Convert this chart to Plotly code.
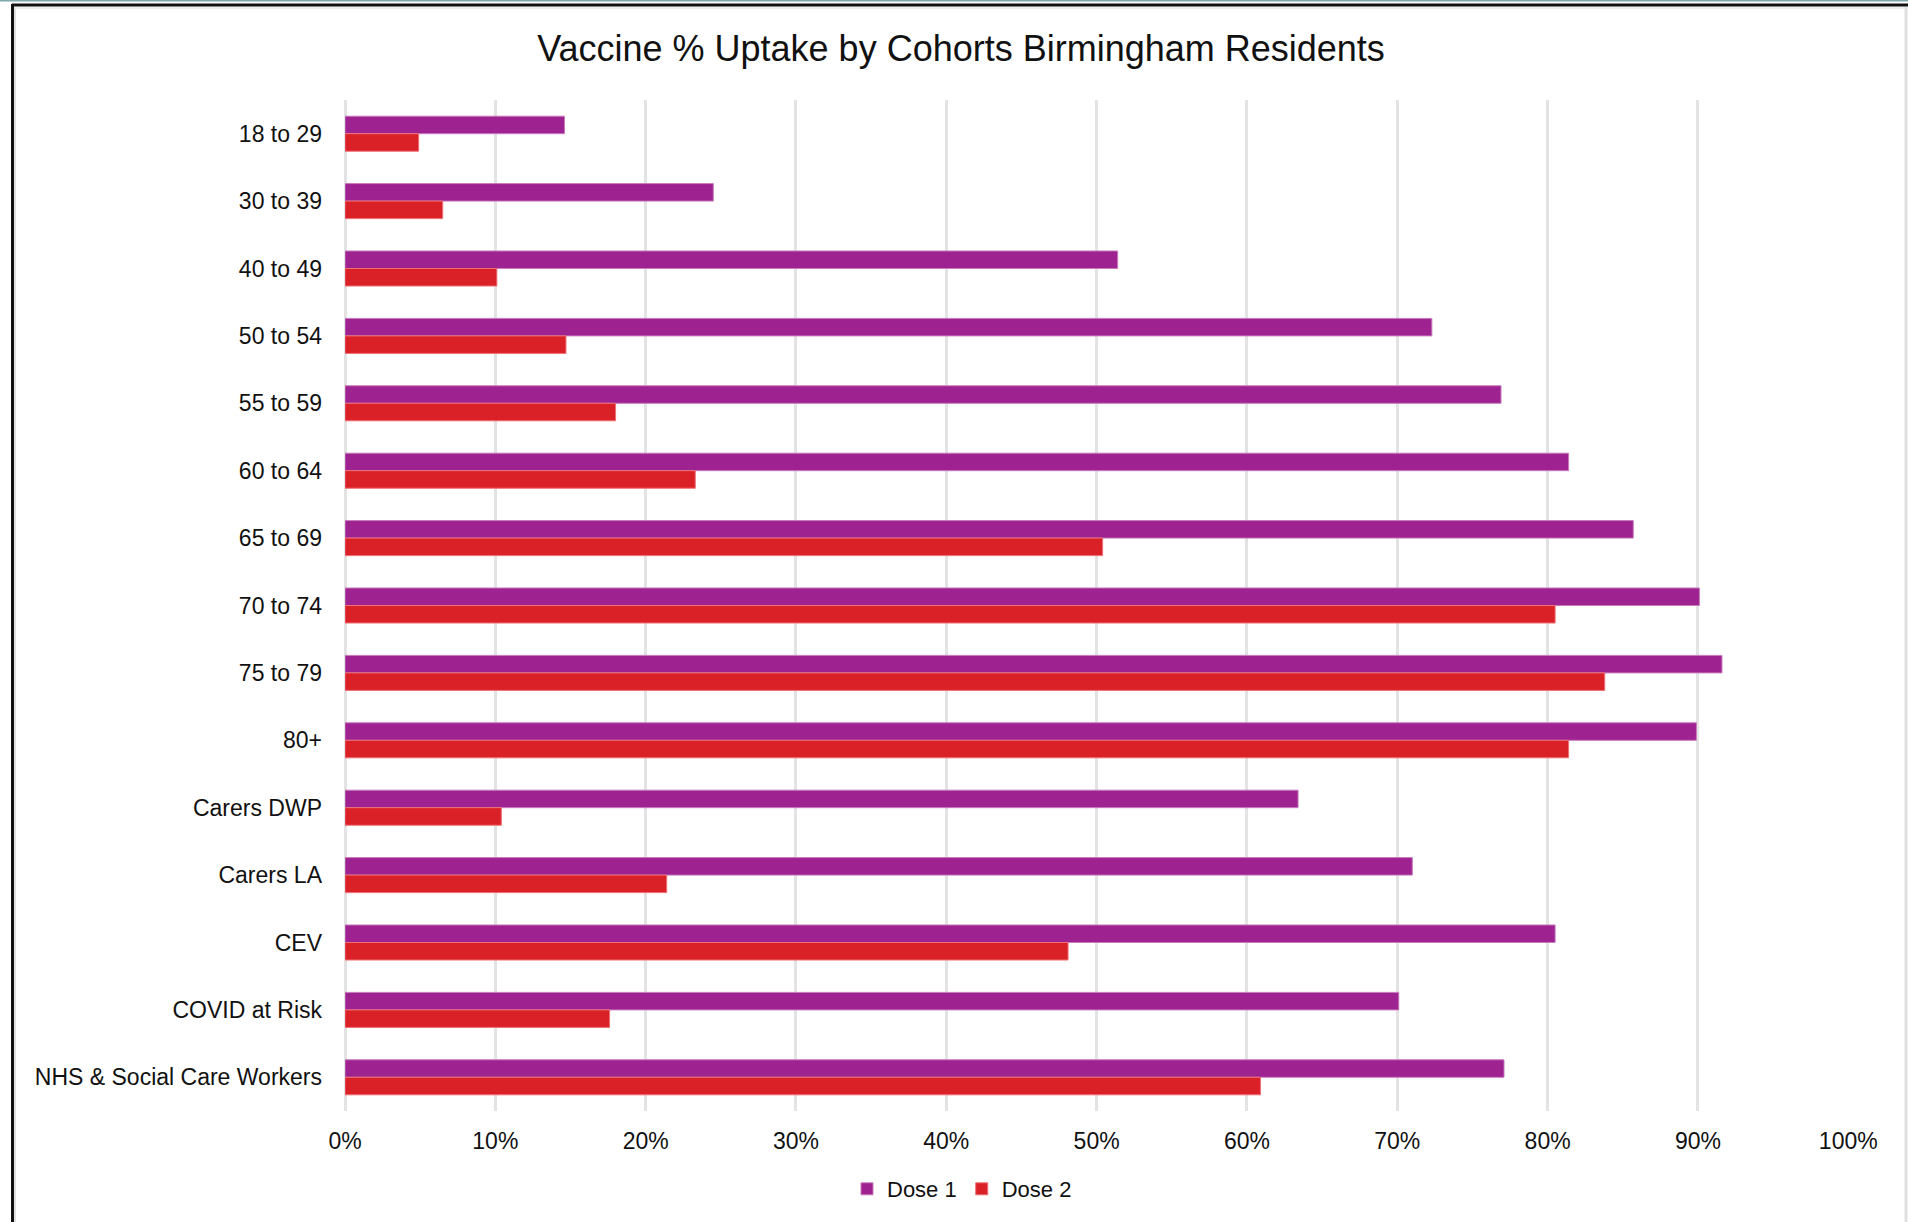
import plotly.graph_objects as go

categories = ["18 to 29", "30 to 39", "40 to 49", "50 to 54", "55 to 59", "60 to 64",
              "65 to 69", "70 to 74", "75 to 79", "80+", "Carers DWP", "Carers LA",
              "CEV", "COVID at Risk", "NHS & Social Care Workers"]
dose1 = [14.6, 24.5, 51.4, 72.3, 76.9, 81.4, 85.7, 90.1, 91.6, 89.9, 63.4, 71.0, 80.5, 70.1, 77.1]
dose2 = [4.9, 6.5, 10.1, 14.7, 18.0, 23.3, 50.4, 80.5, 83.8, 81.4, 10.4, 21.4, 48.1, 17.6, 60.9]
tick_vals = [0, 10, 20, 30, 40, 50, 60, 70, 80, 90, 100]
tick_text = [f"{v}%" for v in tick_vals]

W, H = 1908, 1222
L, R, T, B = 345, 59, 100, 111
pw, ph = W - L - R, H - T - B

def px_x(p):
    return (p - L) / pw

def px_y(p):
    return 1 - (p - T) / ph

font = "Liberation Sans, Arial, sans-serif"

fig = go.Figure()
fig.add_trace(go.Bar(y=categories, x=dose1, name="Dose 1", orientation="h",
                     marker=dict(color="#9E228F", line=dict(color="#C77BBE", width=1))))
fig.add_trace(go.Bar(y=categories, x=dose2, name="Dose 2", orientation="h",
                     marker=dict(color="#DB2128", line=dict(color="#EE7075", width=1))))

shapes = [
    dict(type="line", xref="paper", yref="paper", x0=px_x(0), x1=px_x(W), y0=px_y(0.5), y1=px_y(0.5),
         line=dict(color="#7FA6A8", width=2)),
    dict(type="line", xref="paper", yref="paper", x0=px_x(12), x1=px_x(W), y0=px_y(5), y1=px_y(5),
         line=dict(color="#111111", width=3)),
    dict(type="line", xref="paper", yref="paper", x0=px_x(12.5), x1=px_x(12.5), y0=px_y(4), y1=px_y(H),
         line=dict(color="#111111", width=3)),
    dict(type="line", xref="paper", yref="paper", x0=px_x(15), x1=px_x(15), y0=px_y(7), y1=px_y(H),
         line=dict(color="#E0E0E0", width=2)),
    dict(type="line", xref="paper", yref="paper", x0=px_x(15), x1=px_x(1905), y0=px_y(8), y1=px_y(8),
         line=dict(color="#EEEEEE", width=2)),
    dict(type="line", xref="paper", yref="paper", x0=px_x(1906), x1=px_x(1906), y0=px_y(7), y1=px_y(H),
         line=dict(color="#E0E0E0", width=3)),
]

fig.update_layout(
    width=W, height=H,
    margin=dict(l=L, r=R, t=T, b=B, autoexpand=False),
    paper_bgcolor="white", plot_bgcolor="white",
    barmode="group", bargap=0.48, bargroupgap=0,
    title=dict(text="Vaccine % Uptake by Cohorts Birmingham Residents",
               x=961 / W, xanchor="center",
               y=1 - 48 / H, yanchor="middle",
               font=dict(family=font, size=36, color="#111111")),
    font=dict(family=font, color="#111111"),
    xaxis=dict(range=[0, 100.05], tickvals=tick_vals, ticktext=tick_text,
               showgrid=True, gridcolor="#E3E3E3", gridwidth=2.5,
               zeroline=True, zerolinecolor="#E3E3E3", zerolinewidth=2.5,
               showline=False, ticks="", ticklabelstandoff=14,
               tickfont=dict(size=23, family=font, color="#111111")),
    yaxis=dict(autorange="reversed", showgrid=False, zeroline=False, showline=False,
               ticks="", ticklabelstandoff=22,
               tickfont=dict(size=23, family=font, color="#111111")),
    legend=dict(orientation="h", x=(962 - L) / pw, xanchor="center",
                y=px_y(1189), yanchor="middle",
                font=dict(size=22, family=font, color="#111111"),
                itemwidth=30, traceorder="normal"),
    shapes=shapes,
)

fig.write_html("out.html", config={"displayModeBar": False},
               post_script="document.body.style.margin='0px';document.body.style.overflow='hidden';")
